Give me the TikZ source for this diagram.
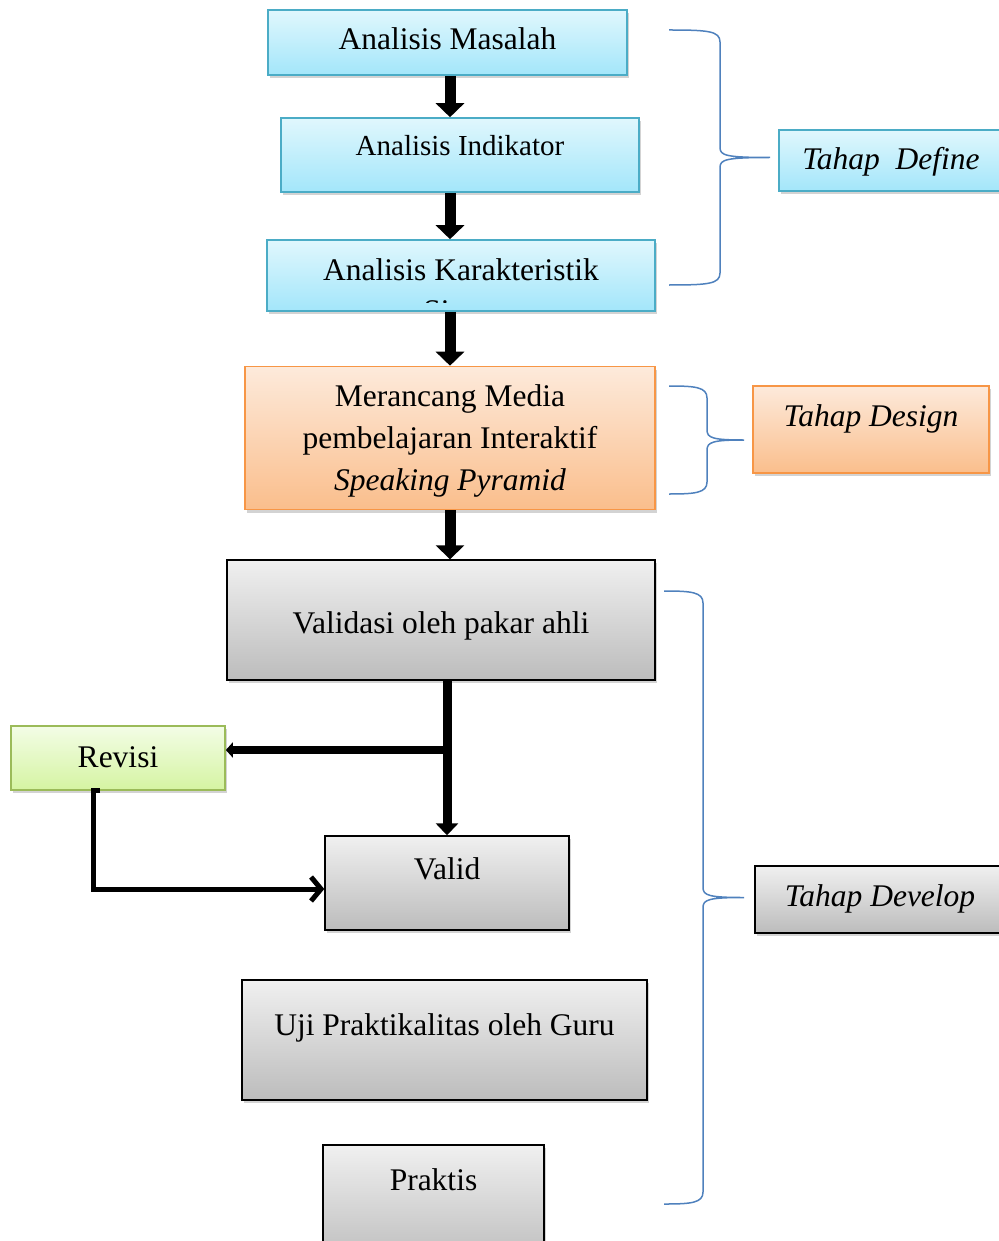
\documentclass[tikz,border=0pt]{standalone}
\usepackage{fontspec}
\setmainfont{Liberation Serif}
\usetikzlibrary{arrows.meta,shadows}

\definecolor{cyanTop}{HTML}{E0F7FD}
\definecolor{cyanBot}{HTML}{A3E6FA}
\definecolor{cyanLine}{HTML}{4BACC6}
\definecolor{orangeTop}{HTML}{FDEADB}
\definecolor{orangeBot}{HTML}{FABE8C}
\definecolor{orangeLine}{HTML}{F79646}
\definecolor{greyTop}{HTML}{F0F0F0}
\definecolor{greyBot}{HTML}{BCBCBC}
\definecolor{greenTop}{HTML}{F3FDE6}
\definecolor{greenBot}{HTML}{D5F4A2}
\definecolor{greenLine}{HTML}{9BBB59}
\definecolor{braceBlue}{HTML}{4F81BD}

\newcommand{\teks}{\fontsize{31.5}{42}\selectfont}

\tikzset{
  box/.style={draw, line width=1.6pt, inner sep=0pt, font=\teks,
    drop shadow={opacity=0.35, shadow xshift=2pt, shadow yshift=-3pt}},
  wh/.style 2 args={minimum width=#1pt, minimum height=#2pt},
  tline/.style={text height=26pt, text depth=#1pt},
  cyanbox/.style={box, draw=cyanLine, top color=cyanTop, bottom color=cyanBot},
  orangebox/.style={box, draw=orangeLine, top color=orangeTop, bottom color=orangeBot},
  greybox/.style={box, draw=black, line width=1.4pt, top color=greyTop, bottom color=greyBot},
  greenbox/.style={box, draw=greenLine, top color=greenTop, bottom color=greenBot},
  blockarrow/.style={line width=11pt, -{Triangle[length=14pt,width=28pt]}},
  thickarrow/.style={line width=9pt, -{Triangle[length=12pt,width=22pt]}},
  branch/.style={line width=8pt, -{Triangle[length=7pt,width=15pt]}},
  revline/.style={line width=5pt, line join=miter, -{Straight Barb[length=10pt,width=24pt]}},
  kurung/.style={draw=braceBlue, line width=1.5pt}
}

\begin{document}
\begin{tikzpicture}[x=1pt,y=-1pt]
    \useasboundingbox (0,0) rectangle (998,1241);
    \node[cyanbox, wh={359}{65}, tline=11] (masalah) at (447.5,42.5) {Analisis Masalah};
    \node[cyanbox, wh={358}{74}, tline=24, font=\fontsize{29}{36}\selectfont] (indikator) at (460,155) {Analisis Indikator};
    \node[cyanbox, wh={388}{71}, tline=17] (karakter) at (461,275.5) {Analisis Karakteristik};
    \begin{scope}
        \clip (karakter.north west) rectangle ([yshift=9pt]karakter.south east);
        \node[font=\teks, anchor=base, inner sep=0pt] (siswa) at (461,321) {Siswa};
    \end{scope}
    \node[orangebox, wh={410}{143}, align=center, text depth=0pt] (merancang) at (450,438)
        {Merancang Media\\pembelajaran Interaktif\\\textit{Speaking Pyramid}};
    \node[greybox, wh={428}{120}, tline=0] (validasi) at (441,620) {Validasi oleh pakar ahli};
    \node[greenbox, wh={214}{64}, tline=8] (revisi) at (118,758) {Revisi};
    \node[greybox, wh={244}{94}, tline=34] (valid) at (447,883) {Valid};
    \node[greybox, wh={405}{120}, tline=36] (uji) at (444.5,1040) {Uji Praktikalitas oleh Guru};
    \node[greybox, wh={221}{120}, tline=56] (praktis) at (433.5,1205) {Praktis};

    \node[cyanbox, wh={224}{61}, tline=8] (define) at (891,160.5) {\textit{Tahap\ \ Define}};
    \node[orangebox, wh={236}{87}, tline=32] (design) at (871,429.5) {\textit{Tahap Design}};
    \node[greybox, wh={250}{67}, tline=13] (develop) at (880,899.5) {\textit{Tahap Develop}};

    \coordinate (poros) at (450,0);
    \draw[blockarrow] (poros |- masalah.south) -- (poros |- indikator.north);
    \draw[blockarrow] (poros |- indikator.south) -- (poros |- karakter.north);
    \draw[blockarrow] (poros |- karakter.south) -- (poros |- merancang.north);
    \draw[blockarrow] (poros |- merancang.south) -- (poros |- validasi.north);

    \draw[thickarrow] (validasi.south -| valid.north) -- (valid.north);
    \coordinate (cabang) at (447,750);
    \draw[branch] (cabang) -- (cabang -| revisi.east);
    \draw[revline] ([xshift=-18pt]revisi.south) -- ([xshift=-25pt]revisi.south)
        |- ([yshift=-6pt]valid.west);

    \foreach \xa/\xb/\xc/\ya/\yb in {669/720/770/30/285, 669/707/744/386/494, 664/703/744/591/1204} {
        \pgfmathsetmacro{\ym}{(\ya+\yb)/2}
        \draw[kurung] (\xa,\ya) .. controls (\xb-12,\ya) and (\xb,\ya+1) .. (\xb,\ya+12)
            -- (\xb,\ym-10) .. controls (\xb,\ym-2) and (\xb+6,\ym) .. (\xc,\ym)
            .. controls (\xb+6,\ym) and (\xb,\ym+2) .. (\xb,\ym+10)
            -- (\xb,\yb-12) .. controls (\xb,\yb-1) and (\xb-12,\yb) .. (\xa,\yb);
    }
\end{tikzpicture}
\end{document}
